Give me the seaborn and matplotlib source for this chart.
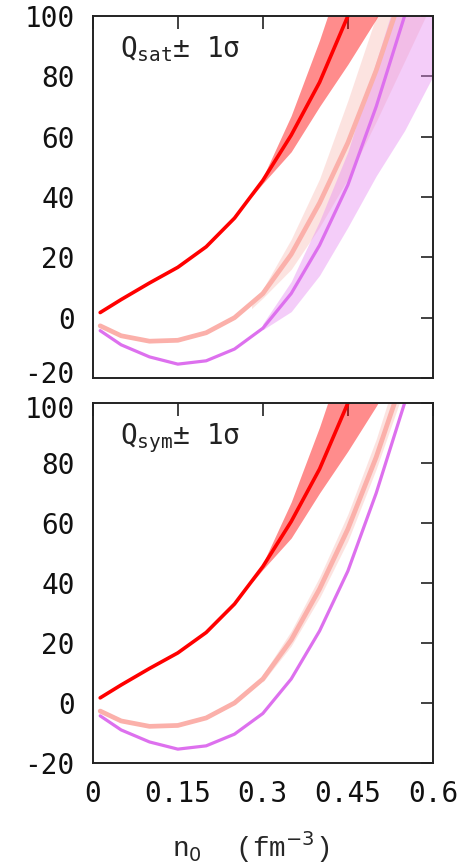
import numpy as np
import pandas as pd
import matplotlib
matplotlib.use("Agg")
import matplotlib.pyplot as plt
import matplotlib.transforms as mtrans
import seaborn as sns

sns.set_style("white")
plt.rcParams['font.family'] = ['DejaVu Sans Mono', 'DejaVu Sans']
plt.rcParams['mathtext.fontset'] = 'dejavusans'

# ---- data ----
x_line = [0.013, 0.05, 0.10, 0.15, 0.20, 0.25, 0.30, 0.35, 0.40, 0.45, 0.50, 0.55]
red_y = [1.7, 6.0, 11.5, 16.7, 23.5, 33.0, 45.5, 60.5, 78.0, 100.0, 125.0, 150.0]
salmon_y = [-2.7, -6.0, -7.8, -7.5, -5.0, 0.0, 8.0, 21.0, 38.0, 58.0, 82.0, 110.0]
violet_y = [-4.3, -9.0, -13.0, -15.4, -14.3, -10.4, -3.5, 8.0, 24.0, 44.0, 70.0, 100.0]

red_band_x = [0.28, 0.30, 0.35, 0.40, 0.45, 0.50, 0.55]
red_band_lo = [40.0, 44.5, 55.0, 70.0, 84.0, 99.0, 115.0]
red_band_hi = [40.0, 46.5, 67.0, 92.0, 120.0, 150.0, 180.0]

sal_band_x = [0.28, 0.30, 0.35, 0.40, 0.45, 0.50, 0.55, 0.60]
sal_band_lo = [3.0, 6.5, 16.0, 30.0, 46.0, 65.0, 85.0, 105.0]
sal_band_hi = [4.0, 9.5, 26.0, 46.0, 72.0, 100.0, 130.0, 160.0]

vio_band_x = [0.30, 0.35, 0.40, 0.45, 0.50, 0.55, 0.60]
vio_band_lo = [-4.0, 2.0, 14.0, 30.0, 47.0, 62.0, 80.0]
vio_band_hi = [-2.0, 12.0, 32.0, 55.0, 85.0, 115.0, 145.0]

sal_band2_x = [0.30, 0.35, 0.40, 0.45, 0.50, 0.55]
sal_band2_lo = [7.0, 19.0, 35.0, 54.0, 78.0, 105.0]
sal_band2_hi = [9.5, 24.0, 42.0, 63.0, 88.0, 118.0]

x_ticks = [0, 0.15, 0.3, 0.45, 0.6]
x_ticklabels = ["0", "0.15", "0.3", "0.45", "0.6"]
y_ticks = [-20, 0, 20, 40, 60, 80, 100]
panel_labels = [r"Q$_{\mathtt{sat}}$± 1σ", r"Q$_{\mathtt{sym}}$± 1σ"]

RED = "#ff0000"
SALMON = "#fbb0aa"
VIOLET = "#dd70ee"

fig = plt.figure(figsize=(4.64, 8.65), dpi=100)
ax_top = fig.add_axes([0.200, 0.563, 0.733, 0.4185])
ax_bot = fig.add_axes([0.200, 0.118, 0.733, 0.416])

lines = pd.DataFrame({"x": x_line, "red": red_y, "salmon": salmon_y, "violet": violet_y})

for i, ax in enumerate([ax_top, ax_bot]):
    if i == 0:
        ax.fill_between(sal_band_x, sal_band_lo, sal_band_hi, color="#f9b0a8",
                        alpha=0.35, lw=0)
        ax.fill_between(vio_band_x, vio_band_lo, vio_band_hi, color="#e68af2",
                        alpha=0.42, lw=0)
    else:
        ax.fill_between(sal_band2_x, sal_band2_lo, sal_band2_hi, color="#f9b0a8",
                        alpha=0.35, lw=0)
    ax.fill_between(red_band_x, red_band_lo, red_band_hi, color=RED, alpha=0.45, lw=0)

    sns.lineplot(data=lines, x="x", y="salmon", ax=ax, color=SALMON, lw=3.4, sort=False)
    sns.lineplot(data=lines, x="x", y="violet", ax=ax, color=VIOLET, lw=2.3, sort=False)
    sns.lineplot(data=lines, x="x", y="red", ax=ax, color=RED, lw=2.6, sort=False)

    ax.set_xlim(0, 0.6)
    ax.set_ylim(-20, 100)
    ax.set_xticks(x_ticks)
    ax.set_yticks(y_ticks)
    ax.set_yticklabels([str(v) for v in y_ticks], family="DejaVu Sans Mono")
    ax.tick_params(direction="in", length=9, width=1.3, top=True, right=True,
                   labelsize=20, color="#333333", labelcolor="#111111")
    ax.tick_params(axis="y", pad=13)
    ax.tick_params(axis="x", pad=12)
    for s in ax.spines.values():
        s.set_linewidth(1.4)
        s.set_color("#222222")
    ax.set_ylabel("")
    ax.text(0.08, 0.885, panel_labels[i], transform=ax.transAxes, fontsize=20,
            color="#222222", va="baseline", ha="left")

# nudge the two adjacent labels (-20 of top panel, 100 of bottom panel) apart
lab_top = ax_top.get_yticklabels()[0]
lab_top.set_transform(lab_top.get_transform() +
                      mtrans.ScaledTranslation(0, 4 / 72, fig.dpi_scale_trans))
lab_bot = ax_bot.get_yticklabels()[-1]
lab_bot.set_transform(lab_bot.get_transform() +
                      mtrans.ScaledTranslation(0, -3 / 72, fig.dpi_scale_trans))

ax_top.set_xticklabels([])
ax_top.set_xlabel("")
ax_bot.set_xticklabels(x_ticklabels)
ax_bot.set_xlabel(r"n$_0$  (fm$^{-3}$)", fontsize=20,
                  family=["Liberation Mono", "DejaVu Sans Mono"])
ax_bot.xaxis.set_label_coords(0.465, -0.185)

fig.savefig("out.png", dpi=100)
